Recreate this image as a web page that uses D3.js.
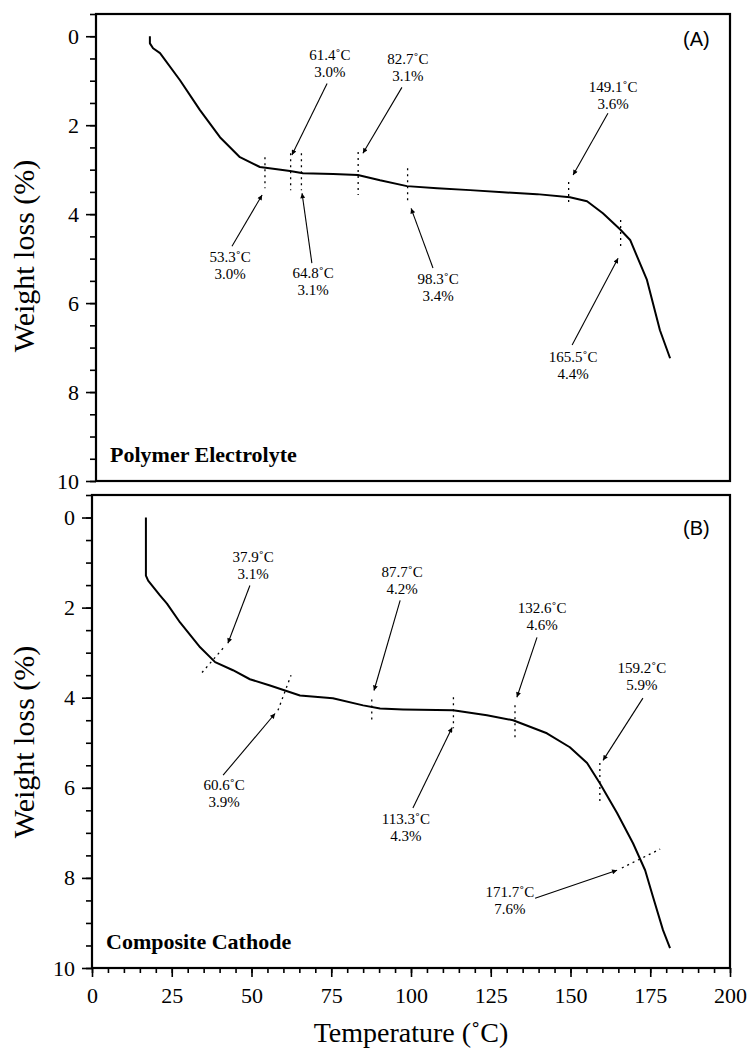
<!DOCTYPE html>
<html>
<head>
<meta charset="utf-8">
<script src="https://cdn.jsdelivr.net/npm/d3@7"></script>
<style>
  body { margin: 0; background: #fff; }
  svg { display: block; }
  text { font-family: "Liberation Serif", "Times New Roman", serif; fill: #000; }
</style>
</head>
<body>
<script>
// panel A: polymer electrolyte
var tempA = [17.0, 17.0, 18.0, 20.2, 26.5, 32.8, 39.1, 45.4, 51.7, 57.1, 61.2, 65.3, 74.8, 82.6, 89.6, 98.1, 107.6, 118.0, 128.4, 139.1, 149.5, 154.9, 159.9, 165.3, 168.5, 173.8, 177.9, 181.1];
var lossA = [0, 0.16, 0.27, 0.38, 0.99, 1.66, 2.27, 2.72, 2.94, 2.99, 3.03, 3.08, 3.10, 3.12, 3.24, 3.37, 3.42, 3.46, 3.51, 3.55, 3.62, 3.71, 3.98, 4.34, 4.58, 5.48, 6.61, 7.24];

// panel B: composite cathode
var tempB = [16.9, 16.9, 17.6, 21.3, 23.5, 27.6, 33.9, 38.6, 44.2, 49.5, 55.8, 60.5, 65.2, 75.5, 85.0, 90.3, 97.5, 113.2, 123.8, 132.0, 142.6, 149.8, 155.2, 159.2, 164.6, 169.6, 173.4, 175.9, 179.0, 181.2];
var lossB = [0, 1.29, 1.40, 1.73, 1.91, 2.33, 2.88, 3.21, 3.39, 3.59, 3.73, 3.84, 3.95, 4.01, 4.17, 4.24, 4.26, 4.28, 4.39, 4.50, 4.79, 5.10, 5.45, 5.90, 6.56, 7.23, 7.83, 8.43, 9.16, 9.56];

// marked onset points
var markTempA = [53.3, 61.4, 64.8, 82.7, 98.3, 149.1, 165.5];
var markLossA = [3.0, 3.0, 3.1, 3.1, 3.4, 3.6, 4.4];
var markTempB = [37.9, 60.6, 87.7, 113.3, 132.6, 159.2, 171.7];
var markLossB = [3.1, 3.9, 4.2, 4.3, 4.6, 5.9, 7.6];

// annotation layout in data units: dotted marker, label anchor, arrow tail -> tip
var layoutA = [
  {dot: [53.3, 2.72, 53.3, 3.42], text: [42.3, 5.08], arrow: [42.9, 4.72, 52.4, 3.57]},
  {dot: [61.4, 2.63, 61.4, 3.46], text: [73.8, 0.54], arrow: [72.9, 1.06, 61.8, 2.67]},
  {dot: [64.8, 2.63, 64.8, 3.46], text: [68.5, 5.44], arrow: [68.1, 5.10, 65.0, 3.53]},
  {dot: [82.7, 2.60, 82.7, 3.57], text: [98.4, 0.63], arrow: [96.5, 1.15, 84.2, 2.63]},
  {dot: [98.3, 2.97, 98.3, 3.69], text: [107.9, 5.57], arrow: [106.3, 5.21, 99.4, 3.87]},
  {dot: [149.1, 3.28, 149.1, 3.80], text: [163.1, 1.26], arrow: [161.5, 1.73, 150.5, 3.12]},
  {dot: [165.5, 4.13, 165.5, 4.80], text: [150.5, 7.33], arrow: [150.2, 6.94, 164.7, 4.99]}
];
var layoutB = [
  {dot: [34.5, 3.44, 41.1, 2.90], text: [50.5, 0.98], arrow: [49.5, 1.51, 42.6, 2.79]},
  {dot: [58.3, 4.28, 62.4, 3.50], text: [41.4, 6.05], arrow: [41.1, 5.72, 57.4, 4.35]},
  {dot: [87.7, 4.04, 87.7, 4.57], text: [97.2, 1.33], arrow: [96.6, 1.84, 88.4, 3.84]},
  {dot: [113.3, 3.99, 113.3, 4.68], text: [98.4, 6.81], arrow: [100.6, 6.45, 112.9, 4.66]},
  {dot: [132.6, 4.17, 132.6, 4.88], text: [141.1, 2.11], arrow: [139.5, 2.66, 133.2, 3.99]},
  {dot: [159.2, 5.45, 159.2, 6.34], text: [172.4, 3.46], arrow: [172.7, 4.01, 160.2, 5.39]},
  {dot: [166.1, 7.78, 178.1, 7.36], text: [131.0, 8.43], arrow: [138.9, 8.45, 164.6, 7.83]}
];

var majorY = [0, 2, 4, 6, 8, 10];
var minorY = d3.range(-0.5, 10.01, 0.5);
var majorX = d3.range(0, 201, 25);
var minorX = d3.range(0, 201, 5);

var width = 749, height = 1049;

var svg = d3.select("body").append("svg")
  .attr("width", width)
  .attr("height", height);

svg.append("defs").append("marker")
  .attr("id", "head")
  .attr("viewBox", "0 0 10 10")
  .attr("refX", 10)
  .attr("refY", 5)
  .attr("markerWidth", 9)
  .attr("markerHeight", 5)
  .attr("markerUnits", "userSpaceOnUse")
  .attr("orient", "auto")
  .append("path")
  .attr("d", "M0,0L10,5L0,10Z")
  .attr("fill", "#000");

function drawPanel(p) {
  var x = d3.scaleLinear().domain([0, 200]).range([p.left, 730]);
  var y = d3.scaleLinear().domain([-0.5, 10]).range([p.top, p.bottom]);

  var g = svg.append("g");

  // minor + major y ticks
  g.append("g")
    .attr("transform", "translate(" + p.left + ",0)")
    .call(d3.axisLeft(y).tickValues(minorY).tickSize(6).tickFormat(""))
    .call(function(s) { s.select(".domain").remove(); })
    .selectAll("line").attr("stroke-width", 1.6);

  g.append("g")
    .attr("transform", "translate(" + p.left + ",0)")
    .call(d3.axisLeft(y).tickValues(majorY).tickSize(10).tickPadding(7).tickFormat(d3.format("d")))
    .call(function(s) { s.select(".domain").remove(); })
    .call(function(s) {
      s.selectAll("line").attr("stroke-width", 1.6);
      s.selectAll("text")
        .style("font-family", "Liberation Serif")
        .style("font-size", "22px");
    });

  if (p.xAxis) {
    g.append("g")
      .attr("transform", "translate(0," + p.bottom + ")")
      .call(d3.axisBottom(x).tickValues(minorX).tickSize(5).tickFormat(""))
      .call(function(s) { s.select(".domain").remove(); })
      .selectAll("line").attr("stroke-width", 1.6);

    g.append("g")
      .attr("transform", "translate(0," + p.bottom + ")")
      .call(d3.axisBottom(x).tickValues(majorX).tickSize(9).tickPadding(10).tickFormat(d3.format("d")))
      .call(function(s) { s.select(".domain").remove(); })
      .call(function(s) {
        s.selectAll("line").attr("stroke-width", 1.6);
        s.selectAll("text")
          .style("font-family", "Liberation Serif")
          .style("font-size", "22px");
      });
  }

  // frame
  g.append("rect")
    .attr("x", p.left)
    .attr("y", p.top)
    .attr("width", 730 - p.left)
    .attr("height", p.bottom - p.top)
    .attr("fill", "none")
    .attr("stroke", "#000")
    .attr("stroke-width", 2.2);

  // curve
  var pts = p.temp.map(function(t, i) { return [t, p.loss[i]]; });
  var line = d3.line()
    .x(function(d) { return x(d[0]); })
    .y(function(d) { return y(d[1]); });

  g.append("path")
    .datum(pts)
    .attr("d", line)
    .attr("fill", "none")
    .attr("stroke", "#000")
    .attr("stroke-width", 2)
    .attr("stroke-linejoin", "round");

  // callouts
  p.layout.forEach(function(a, i) {
    g.append("line")
      .attr("x1", x(a.dot[0])).attr("y1", y(a.dot[1]))
      .attr("x2", x(a.dot[2])).attr("y2", y(a.dot[3]))
      .attr("stroke", "#000")
      .attr("stroke-width", 1.3)
      .attr("stroke-dasharray", "2,4");

    g.append("line")
      .attr("x1", x(a.arrow[0])).attr("y1", y(a.arrow[1]))
      .attr("x2", x(a.arrow[2])).attr("y2", y(a.arrow[3]))
      .attr("stroke", "#000")
      .attr("stroke-width", 1.1)
      .attr("marker-end", "url(#head)");

    var t = g.append("text")
      .attr("x", x(a.text[0]))
      .attr("y", y(a.text[1]))
      .attr("text-anchor", "middle")
      .style("font-size", "15px");
    t.append("tspan").text(p.markT[i].toFixed(1) + "˚C");
    t.append("tspan")
      .attr("x", x(a.text[0]))
      .attr("dy", 17)
      .text(p.markW[i].toFixed(1) + "%");
  });

  g.append("text")
    .attr("x", p.left + 14)
    .attr("y", p.nameY)
    .style("font-size", "22px")
    .style("font-weight", "bold")
    .text(p.name);

  g.append("text")
    .attr("x", 683)
    .attr("y", p.tagY)
    .style("font-family", "Liberation Sans, Arial, sans-serif")
    .style("font-size", "20px")
    .text(p.tag);

  g.append("text")
    .attr("transform", "translate(34," + p.titleY + ") rotate(-90)")
    .attr("text-anchor", "middle")
    .style("font-size", "30px")
    .text("Weight loss (%)");
}

drawPanel({
  left: 96, top: 14, bottom: 481,
  temp: tempA, loss: lossA,
  markT: markTempA, markW: markLossA, layout: layoutA,
  name: "Polymer Electrolyte", nameY: 462, tag: "(A)", tagY: 46, titleY: 256,
  xAxis: false
});

drawPanel({
  left: 92, top: 495, bottom: 968,
  temp: tempB, loss: lossB,
  markT: markTempB, markW: markLossB, layout: layoutB,
  name: "Composite Cathode", nameY: 949, tag: "(B)", tagY: 535, titleY: 742,
  xAxis: true
});

svg.append("text")
  .attr("x", 411)
  .attr("y", 1042)
  .attr("text-anchor", "middle")
  .style("font-size", "28px")
  .text("Temperature (˚C)");
</script>
</body>
</html>
